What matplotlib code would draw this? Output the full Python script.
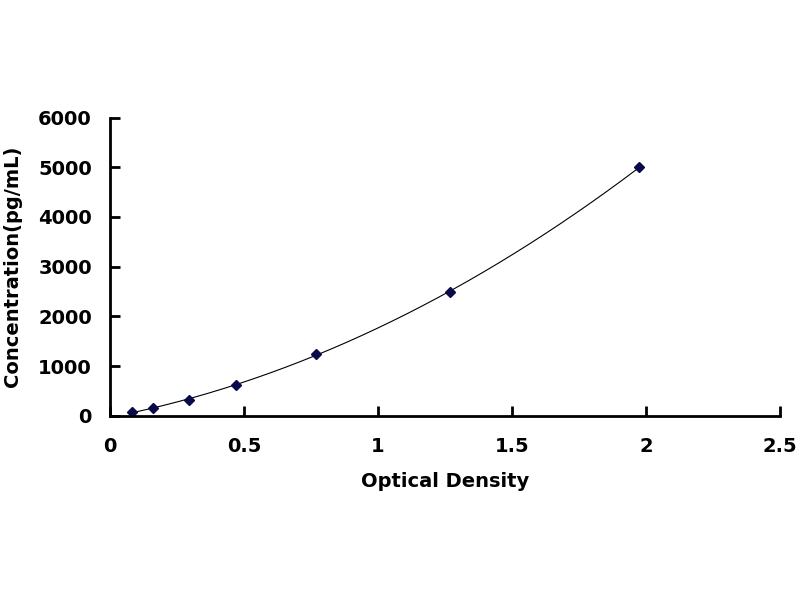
import numpy as np
import matplotlib
matplotlib.use("Agg")
import matplotlib.pyplot as plt

# Standard curve data
od = [0.082, 0.160, 0.295, 0.470, 0.770, 1.270, 1.975]
conc = [78, 156, 312, 625, 1250, 2500, 5000]

x_ticks = [0, 0.5, 1, 1.5, 2, 2.5]
x_labels = ["0", "0.5", "1", "1.5", "2", "2.5"]
y_ticks = [0, 1000, 2000, 3000, 4000, 5000, 6000]

plt.rcParams["font.family"] = ["DejaVu Sans"]
plt.rcParams["font.weight"] = "bold"

fig = plt.figure(figsize=(8, 6), dpi=100)
ax = fig.add_axes([0.1375, 0.307, 0.8375, 0.497])

# fitted trend line (polynomial, like the spreadsheet trendline)
coef = np.polyfit(od, conc, 3)
xs = np.linspace(min(od), max(od), 200)
ax.plot(xs, np.polyval(coef, xs), color="black", lw=0.8)
ax.plot(od, conc, linestyle="none", marker="D", markersize=5, color="#0a0a4a")

ax.set_xlim(0, 2.5)
ax.set_ylim(0, 6000)
ax.set_xticks(x_ticks)
ax.set_xticklabels(x_labels)
ax.set_yticks(y_ticks)

for s in ["top", "right"]:
    ax.spines[s].set_visible(False)
for s in ["left", "bottom"]:
    ax.spines[s].set_linewidth(2)

ax.tick_params(direction="in", length=7, width=2, labelsize=14)
ax.tick_params(axis="x", pad=15)
ax.tick_params(axis="y", pad=13)

ax.set_xlabel("Optical Density", fontsize=14, fontweight="bold", labelpad=12)
ax.set_ylabel("Concentration(pg/mL)", fontsize=14, fontweight="bold", labelpad=12)

fig.savefig("out.png", dpi=100)
